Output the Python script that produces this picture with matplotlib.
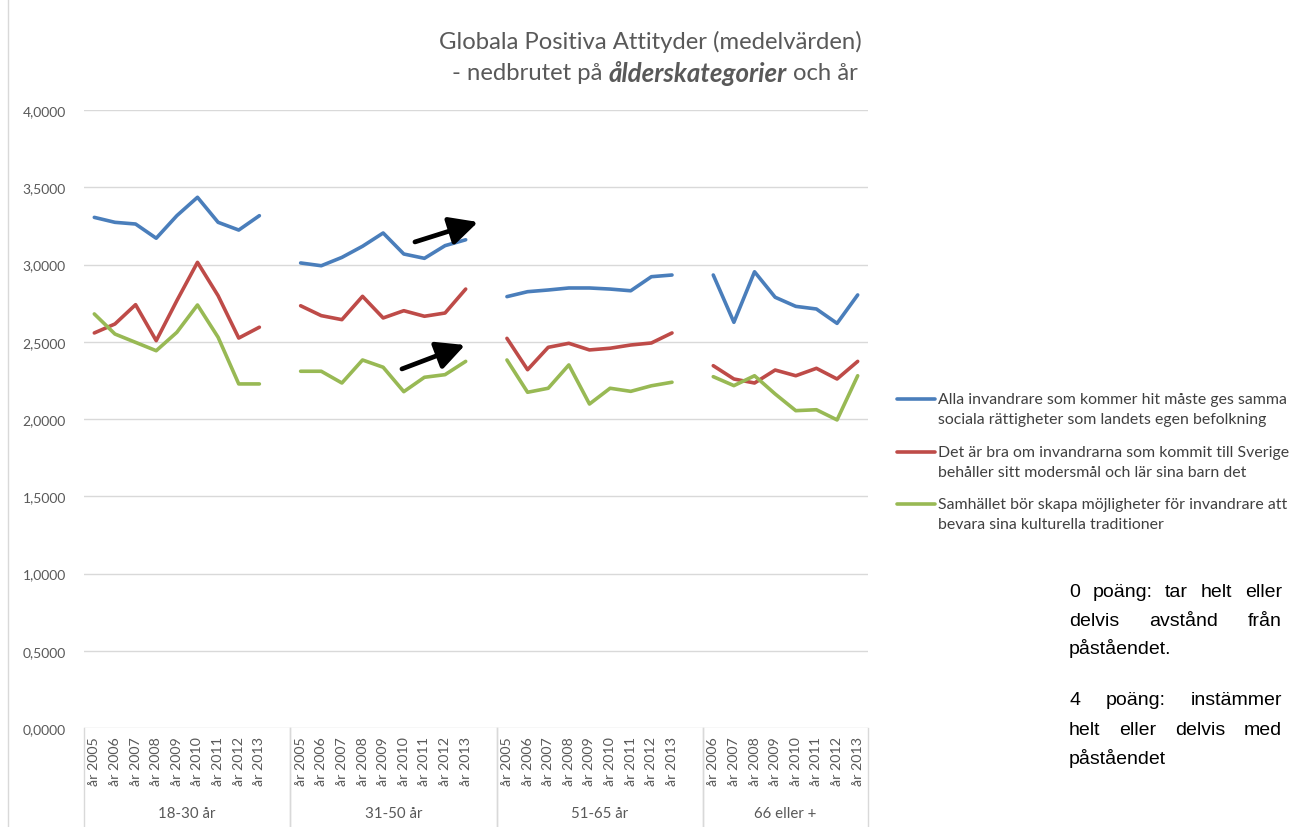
import matplotlib
matplotlib.use("Agg")
import matplotlib.pyplot as plt
import numpy as np
from matplotlib.lines import Line2D

# ---------------- data ----------------
groups = ["18-30 år", "31-50 år", "51-65 år", "66 eller +"]
group_years = [
    [2005, 2006, 2007, 2008, 2009, 2010, 2011, 2012, 2013],
    [2005, 2006, 2007, 2008, 2009, 2010, 2011, 2012, 2013],
    [2005, 2006, 2007, 2008, 2009, 2010, 2011, 2012, 2013],
    [2006, 2007, 2008, 2009, 2010, 2011, 2012, 2013],
]

series_names = [
    "Alla invandrare som kommer hit måste ges samma\nsociala rättigheter som landets egen befolkning",
    "Det är bra om invandrarna som kommit till Sverige\nbehåller sitt modersmål och lär sina barn det",
    "Samhället bör skapa möjligheter för invandrare att\nbevara sina kulturella traditioner",
]

blue_values = [
    [3.305, 3.273, 3.262, 3.170, 3.316, 3.435, 3.273, 3.223, 3.316],
    [3.010, 2.992, 3.046, 3.118, 3.204, 3.068, 3.040, 3.122, 3.160],
    [2.792, 2.824, 2.835, 2.848, 2.848, 2.841, 2.830, 2.921, 2.932],
    [2.932, 2.626, 2.953, 2.788, 2.729, 2.712, 2.619, 2.803],
]
red_values = [
    [2.557, 2.615, 2.740, 2.507, 2.766, 3.014, 2.798, 2.524, 2.594],
    [2.733, 2.669, 2.643, 2.794, 2.654, 2.701, 2.665, 2.686, 2.841],
    [2.522, 2.319, 2.464, 2.490, 2.447, 2.458, 2.479, 2.492, 2.557],
    [2.345, 2.259, 2.233, 2.317, 2.280, 2.328, 2.259, 2.373],
]
green_values = [
    [2.680, 2.550, 2.496, 2.442, 2.561, 2.738, 2.529, 2.227, 2.227],
    [2.309, 2.309, 2.233, 2.382, 2.335, 2.177, 2.270, 2.287, 2.373],
    [2.382, 2.173, 2.199, 2.350, 2.097, 2.199, 2.179, 2.215, 2.238],
    [2.274, 2.216, 2.280, 2.162, 2.054, 2.060, 1.994, 2.280],
]
series_values = [blue_values, red_values, green_values]
colors = ["#4A7EBB", "#BE4B48", "#98B954"]

yticks = [0, 0.5, 1.0, 1.5, 2.0, 2.5, 3.0, 3.5, 4.0]

title_line1 = "Globala Positiva Attityder (medelvärden)"
title_line2 = [("- nedbrutet på", "normal", "normal"),
               ("ålderskategorier", "bold", "italic"),
               ("och år", "normal", "normal")]

note_lines = [
    ("0 poäng: tar helt eller", True),
    ("delvis avstånd från", True),
    ("påståendet.", False),
    ("4 poäng: instämmer", True),
    ("helt eller delvis med", True),
    ("påståendet", False),
]

# arrow annotations (data coordinates: tail -> head)
arrows = [((15.54, 3.146), (18.60, 3.275)),
          ((14.91, 2.324), (17.97, 2.479))]

# ---------------- layout ----------------
W, H = 1293, 828
fig = plt.figure(figsize=(W / 100, H / 100), dpi=100)
FONT = "Lato"
GRAY = "#595959"

def fx(px):
    return px / W

def fy(py):
    return 1 - py / H

ax = fig.add_axes([fx(84), fy(729), fx(868) - fx(84), (729 - 111) / H])

# category positions, with one blank slot after each group except last
labels = []
positions = []
group_bounds = []
idx = 0
for gi, yrs in enumerate(group_years):
    start = idx
    for y in yrs:
        positions.append(idx)
        labels.append(f"år {y}")
        idx += 1
    if gi < len(group_years) - 1:
        idx += 1  # blank category
    group_bounds.append((start - 0.5, idx - 0.5))
n_cat = idx

for vals, col in zip(series_values, colors):
    full = np.full(n_cat, np.nan)
    flat = [v for g in vals for v in g]
    full[positions] = flat
    ax.plot(np.arange(n_cat), full, color=col, lw=2.6, solid_capstyle="round",
            solid_joinstyle="round", zorder=3)

ax.set_xlim(-0.5, n_cat - 0.5)
ax.set_ylim(0, 4)
ax.set_yticks(yticks)
ax.set_yticklabels([f"{v:.4f}".replace(".", ",") for v in yticks],
                   fontsize=10, color=GRAY, fontfamily=FONT)
ax.set_xticks(positions)
ax.set_xticklabels(labels, rotation=90, fontsize=10.3, color=GRAY, fontfamily=FONT)
ax.tick_params(axis="y", length=0, pad=13)
ax.tick_params(axis="x", length=0, pad=6)
for s in ax.spines.values():
    s.set_visible(False)
ax.grid(axis="y", color="#D9D9D9", lw=1.0)
ax.set_axisbelow(True)

xt = ax.get_xaxis_transform()
for lo, hi in group_bounds:
    for b in (lo, hi):
        ax.add_line(Line2D([b, b], [0, -0.161], transform=xt, color="#D9D9D9",
                           lw=1.0, clip_on=False))
for (lo, hi), g in zip(group_bounds, groups):
    ax.text((lo + hi) / 2, -0.137, g, transform=xt, ha="center", va="center",
            fontsize=10.8, color=GRAY, fontfamily=FONT)

for tail, head in arrows:
    ax.annotate("", xy=head, xytext=tail,
                arrowprops=dict(arrowstyle="-|>,head_length=0.9,head_width=0.45",
                                lw=3.4, color="black", shrinkA=0, shrinkB=0,
                                mutation_scale=19), zorder=5)

# chart border line on the left
fig.add_artist(Line2D([fx(8), fx(8)], [0, 1], transform=fig.transFigure,
                      color="#D9D9D9", lw=1.0))

fig.canvas.draw()
renderer = fig.canvas.get_renderer()

def text_width(s, **kw):
    t = fig.text(0, 0, s, **kw)
    w = t.get_window_extent(renderer=renderer).width
    t.remove()
    return w

# title
tkw = dict(color=GRAY, fontfamily=FONT)
fig.text(fx(650), fy(42), title_line1, ha="center", va="center", fontsize=17.2, **tkw)
space = text_width("x x", fontsize=17.2, **tkw) - text_width("xx", fontsize=17.2, **tkw)
sizes = [17.2, 18.6, 17.2]
widths = [text_width(s, fontweight=wt, fontstyle=st, fontsize=fs, **tkw)
          for (s, wt, st), fs in zip(title_line2, sizes)]
total = sum(widths) + space * (len(widths) - 1)
x = 655 - total / 2
for (s, wt, st), w, fs in zip(title_line2, widths, sizes):
    fig.text(fx(x), fy(73), s, ha="left", va="center", fontweight=wt, fontstyle=st,
             fontsize=fs, **tkw)
    x += w + space

# legend (manual)
lkw = dict(fontsize=11.4, color="#404040", fontfamily=FONT)
leg_y = [400, 453, 505]
for name, col, y0 in zip(series_names, colors, leg_y):
    fig.add_artist(Line2D([fx(897), fx(935)], [fy(y0), fy(y0)], transform=fig.transFigure,
                          color=col, lw=2.6, solid_capstyle="round"))
    for k, line in enumerate(name.split("\n")):
        fig.text(fx(938), fy(y0 + 20 * k), line, ha="left", va="center", **lkw)

# justified note text
nkw = dict(fontsize=14, color="black", fontfamily="Liberation Sans")
note_y = [593, 622, 649, 701, 731, 759]
x0, x1 = 1069, 1282
for (line, just), y0 in zip(note_lines, note_y):
    words = line.split()
    if just and len(words) > 1:
        ws = [text_width(w, **nkw) for w in words]
        gap = (x1 - x0 - sum(ws)) / (len(words) - 1)
        x = x0
        for w, wd in zip(words, ws):
            fig.text(fx(x), fy(y0), w, ha="left", va="center", **nkw)
            x += wd + gap
    else:
        fig.text(fx(x0), fy(y0), line, ha="left", va="center", **nkw)

fig.savefig("out.png", dpi=100, facecolor="white")
